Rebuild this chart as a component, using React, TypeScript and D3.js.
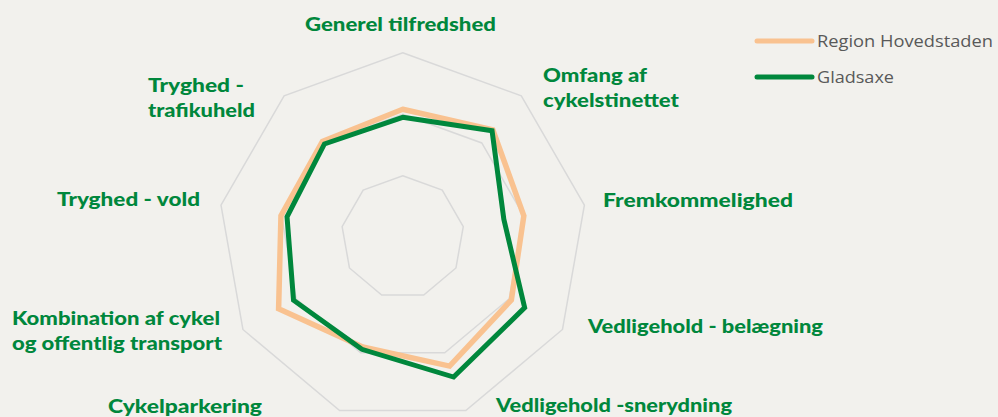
import React from "react";
import * as d3 from "d3";

const categories = [
  "Generel tilfredshed",
  "Omfang af cykelstinettet",
  "Fremkommelighed",
  "Vedligehold - belægning",
  "Vedligehold -snerydning",
  "Cykelparkering",
  "Kombination af cykel og offentlig transport",
  "Tryghed - vold",
  "Tryghed - trafikuheld",
];
const labelLines = [
  ["Generel tilfredshed"],
  ["Omfang af", "cykelstinettet"],
  ["Fremkommelighed"],
  ["Vedligehold - belægning"],
  ["Vedligehold -snerydning"],
  ["Cykelparkering"],
  ["Kombination af cykel", "og offentlig transport"],
  ["Tryghed - vold"],
  ["Tryghed -", "trafikuheld"],
];
const seriesNames = ["Region Hovedstaden", "Gladsaxe"];
const regionValues = [2.08, 2.28, 2.0, 2.04, 2.23, 1.9, 2.33, 2.01, 2.03];
const gladsaxeValues = [1.95, 2.26, 1.67, 2.29, 2.42, 1.94, 2.05, 1.91, 1.98];
const gridLevels = [1, 2, 3];

// label layout: left x, first baseline y, width of each line
const labelPos: [number, number][] = [
  [305, 31],
  [543, 82],
  [603, 207],
  [588, 333],
  [496, 412],
  [108, 412.5],
  [12, 325],
  [57, 206],
  [148, 92],
];
const labelWidths = [
  [191],
  [104, 136],
  [190],
  [235],
  [236],
  [154],
  [208, 210],
  [143],
  [96, 107],
];

const W = 998;
const H = 417;
const cx = 402.7;
const cy = 237.2;
const R = 184.5;
const GREEN = "#00873C";
const ORANGE = "#F9C290";

export default function App() {
  const n = categories.length;
  const angle = d3
    .scaleLinear()
    .domain([0, n])
    .range([0, 2 * Math.PI]);
  const r = d3.scaleLinear().domain([0, 3]).range([0, R]);
  const radial = d3
    .lineRadial<number>()
    .angle((_, i) => angle(i))
    .radius((v) => r(v))
    .curve(d3.curveLinearClosed);

  const gridPath = (lvl: number) => radial(categories.map(() => lvl)) || "";

  const series = [
    { name: seriesNames[0], values: regionValues, color: ORANGE, width: 5.5 },
    { name: seriesNames[1], values: gladsaxeValues, color: GREEN, width: 5 },
  ];

  return (
    <svg
      width={W}
      height={H}
      style={{ position: "absolute", left: 0, top: 0, background: "#F2F1ED" }}
    >
      <rect width={W} height={H} fill="#F2F1ED" />
      <g transform={`translate(${cx},${cy})`}>
        {gridLevels.map((l) => (
          <path key={l} d={gridPath(l)} fill="none" stroke="#D9D9D9" strokeWidth={1.5} />
        ))}
        {series.map((s) => (
          <path
            key={s.name}
            d={radial(s.values) || ""}
            fill="none"
            stroke={s.color}
            strokeWidth={s.width}
            strokeLinejoin="miter"
          />
        ))}
      </g>
      {labelLines.map((lines, i) => (
        <g key={categories[i]}>
          {lines.map((t, j) => (
            <text
              key={j}
              x={labelPos[i][0]}
              y={labelPos[i][1] + j * 25}
              textLength={labelWidths[i][j]}
              lengthAdjust="spacingAndGlyphs"
              fill={GREEN}
              fontFamily="Lato, sans-serif"
              fontWeight={900}
              fontSize={19}
            >
              {t}
            </text>
          ))}
        </g>
      ))}
      {series.map((s, i) => (
        <g key={s.name} transform={`translate(0,${41 + i * 36})`}>
          <line x1={757} x2={812} y1={0} y2={0} stroke={s.color} strokeWidth={5} strokeLinecap="round" />
          <text
            x={817}
            y={6}
            fill="#595959"
            fontFamily="'Open Sans', sans-serif"
            fontSize={17}
            textLength={i === 0 ? 176 : 77}
            lengthAdjust="spacingAndGlyphs"
          >
            {s.name}
          </text>
        </g>
      ))}
    </svg>
  );
}
